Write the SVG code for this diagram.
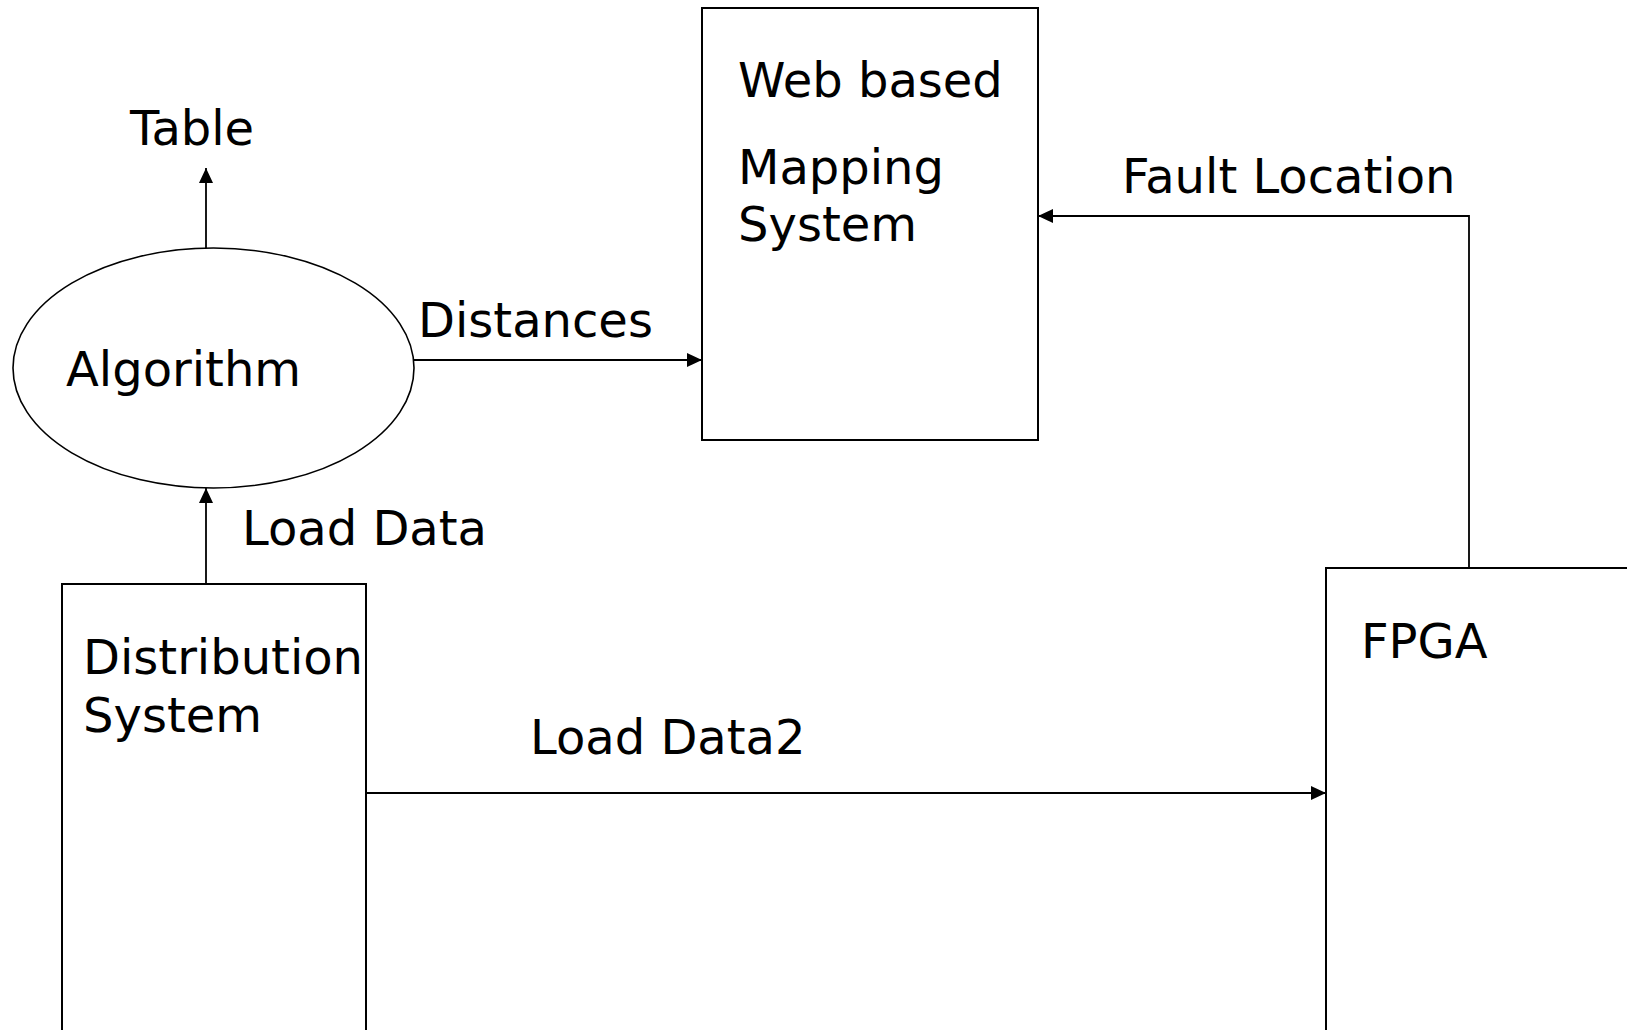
<svg xmlns="http://www.w3.org/2000/svg" width="1627" height="1030" viewBox="0 0 1627 1030">
  <style>
    .box { fill: #fff; stroke: #000; stroke-width: 2; }
    .oval { fill: #fff; stroke: #000; stroke-width: 1.6; }
    .wire { fill: none; stroke: #000; stroke-width: 1.8; }
    text { font-family: "DejaVu Sans", Verdana, sans-serif; font-size: 48px; fill: #000; }
  </style>
  <defs>
    <marker id="arrow" markerUnits="userSpaceOnUse" markerWidth="16" markerHeight="14" refX="15" refY="7" orient="auto">
      <path d="M0,0 L15,7 L0,14 Z" fill="#000"/>
    </marker>
  </defs>

  <rect width="1627" height="1030" fill="#fff"/>

  <!-- connectors -->
  <g id="connectors">
    <line class="wire" x1="206" y1="248" x2="206" y2="168" marker-end="url(#arrow)"/>
    <line class="wire" x1="206" y1="584" x2="206" y2="488" marker-end="url(#arrow)"/>
    <line class="wire" x1="414" y1="360" x2="702" y2="360" marker-end="url(#arrow)"/>
    <polyline class="wire" points="1469,568 1469,216 1038,216" marker-end="url(#arrow)"/>
    <line class="wire" x1="366" y1="793" x2="1326" y2="793" marker-end="url(#arrow)"/>
  </g>

  <!-- connector labels -->
  <g id="labels">
    <text x="130" y="145">Table</text>
    <text x="418" y="337">Distances</text>
    <text x="1122" y="193">Fault Location</text>
    <text x="242" y="545">Load Data</text>
    <text x="530" y="754">Load Data2</text>
  </g>

  <g id="algorithm">
    <ellipse class="oval" cx="213.5" cy="368" rx="200.5" ry="120"/>
    <text x="66" y="386">Algorithm</text>
  </g>

  <g id="mapping-system">
    <rect class="box" x="702" y="8" width="336" height="432"/>
    <text x="738" y="97">Web based</text>
    <text x="738" y="184">Mapping</text>
    <text x="738" y="241">System</text>
  </g>

  <g id="distribution-system">
    <rect class="box" x="62" y="584" width="304" height="470"/>
    <text x="83" y="674">Distribution</text>
    <text x="83" y="732">System</text>
  </g>

  <g id="fpga">
    <rect class="box" x="1326" y="568" width="320" height="480"/>
    <text x="1361" y="658">FPGA</text>
  </g>
</svg>
